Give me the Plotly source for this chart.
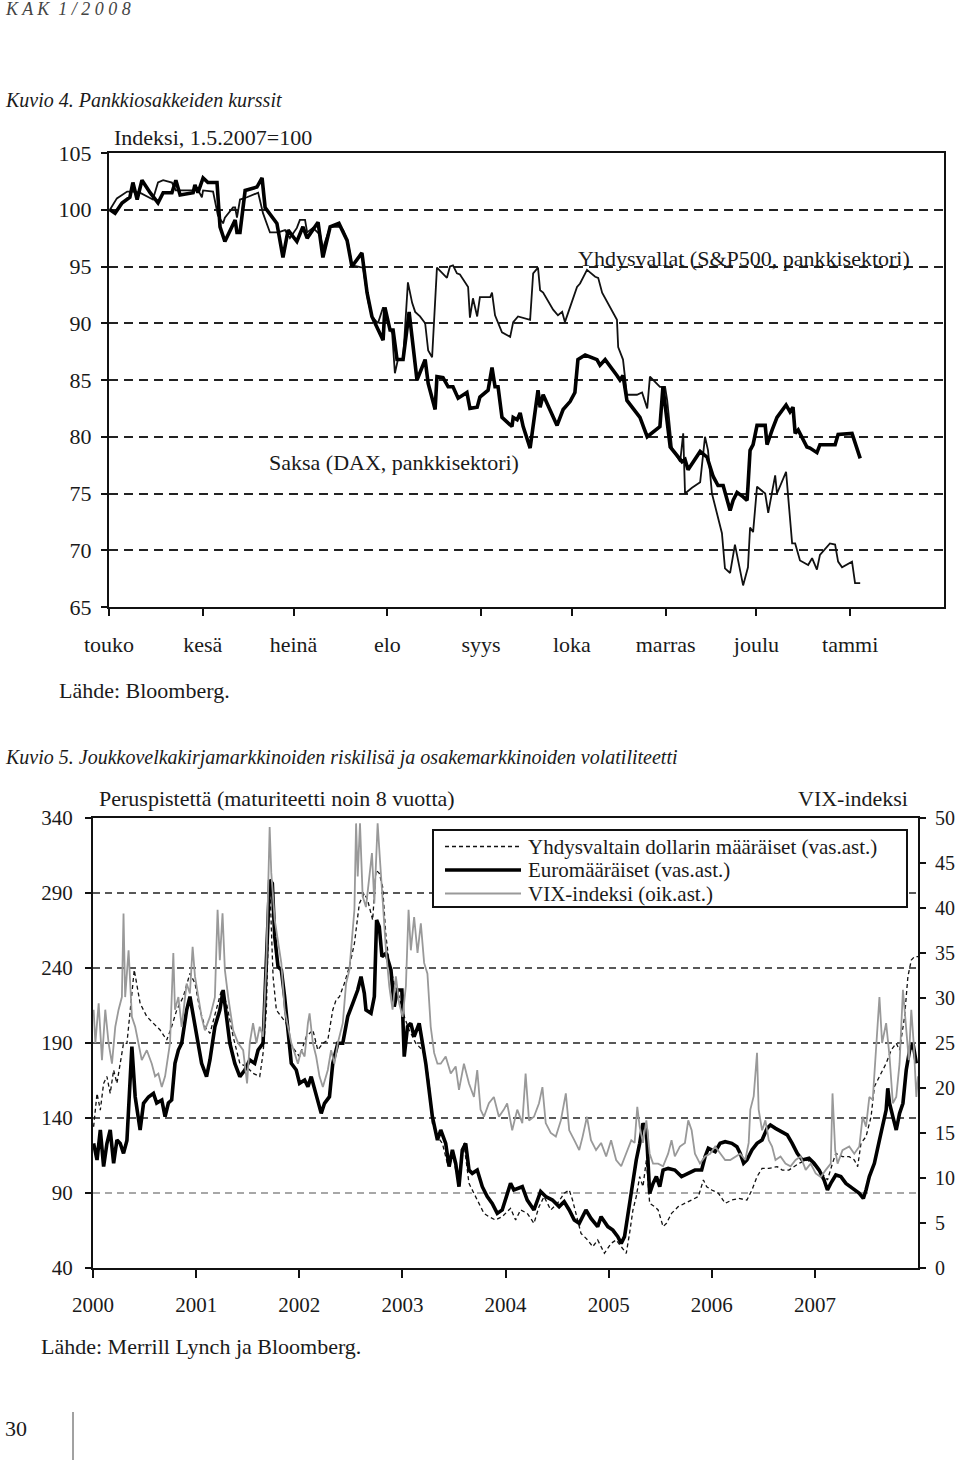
import plotly.graph_objects as go

W, H = 960, 1464

# ---------------- Kuvio 4 data (days since 1 May 2007, index 1.5.2007=100) -------------
months = ["touko", "kesä", "heinä", "elo", "syys", "loka", "marras", "joulu", "tammi"]
month_start_day = [0, 31, 61, 92, 123, 153, 184, 214, 245]

dax_pts = [
    (0.3, 100.0), (2.0, 99.7), (4.3, 100.6), (6.9, 101.1), (7.9, 102.4), (9.3, 100.9), (10.9, 102.6),
    (13.6, 101.5), (16.2, 100.6), (17.9, 101.5), (20.8, 101.5), (22.1, 102.6), (23.5, 101.3), (27.8, 101.5),
    (28.4, 102.2), (29.4, 101.5), (31.1, 102.8), (32.7, 102.4), (35.7, 102.4), (36.7, 98.5), (38.3, 97.2),
    (41.7, 99.1), (42.3, 98.0), (43.3, 98.0), (45.0, 101.7), (48.9, 102.0), (50.6, 102.8), (51.6, 100.2),
    (55.5, 98.8), (57.5, 95.8), (59.2, 98.2), (62.1, 97.2), (64.1, 98.5), (65.5, 97.5), (69.1, 98.9),
    (70.7, 95.8), (73.1, 98.5), (76.0, 98.8), (78.7, 97.3), (80.3, 95.0), (83.6, 96.2), (85.3, 92.7),
    (86.9, 90.6), (90.6, 88.5), (91.2, 91.4), (92.9, 89.4), (93.9, 89.4), (95.2, 86.8), (97.2, 86.8),
    (99.2, 91.0), (101.8, 85.0), (104.5, 86.8), (105.5, 84.7), (107.8, 82.4), (108.4, 85.3), (110.4, 85.2),
    (112.1, 84.4), (113.7, 84.4), (115.4, 83.4), (118.3, 83.9), (119.3, 82.5), (121.7, 82.6), (122.6, 83.5),
    (125.3, 84.1), (126.6, 86.1), (127.6, 84.4), (128.6, 84.4), (129.9, 81.7), (133.2, 80.9), (133.6, 81.7),
    (134.9, 81.5), (135.9, 82.1), (136.9, 80.9), (139.2, 79.0), (141.8, 84.1), (142.5, 82.6), (143.5, 83.7),
    (148.1, 81.0), (150.1, 82.4), (152.4, 83.1), (154.0, 83.9), (155.0, 86.8), (157.4, 87.2), (161.3, 86.8),
    (162.3, 86.3), (164.0, 86.8), (167.9, 85.4), (168.9, 85.0), (169.9, 85.4), (171.2, 83.2), (175.5, 81.7),
    (177.9, 80.0), (182.1, 80.9), (183.1, 84.4), (185.5, 79.1), (189.4, 77.8), (190.4, 78.0), (191.4, 77.1),
    (195.4, 78.7), (197.7, 78.2), (199.7, 76.5), (201.3, 75.7), (203.0, 75.7), (205.3, 73.5), (206.3, 74.4),
    (207.6, 75.1), (209.6, 74.7), (210.9, 74.4), (211.2, 75.6), (211.9, 78.8), (212.9, 79.3), (214.2, 81.0),
    (216.9, 81.0), (217.5, 79.3), (219.2, 80.6), (220.8, 81.7), (223.8, 82.8), (225.1, 82.2), (226.1, 82.6),
    (226.8, 80.3), (227.8, 80.6), (230.7, 79.1), (231.7, 79.0), (234.0, 78.6), (235.0, 79.3), (240.0, 79.3),
    (241.0, 80.2), (245.6, 80.3), (248.3, 78.1),
]

sp_pts = [
    (0.3, 100.0), (2.6, 101.0), (6.0, 101.6), (7.9, 101.6), (10.2, 101.5), (14.5, 100.9), (16.2, 102.4),
    (17.9, 102.6), (20.8, 102.4), (22.1, 101.7), (27.8, 101.7), (29.1, 101.9), (30.7, 101.1), (31.1, 101.7),
    (34.4, 101.6), (36.0, 99.5), (37.7, 98.8), (38.3, 99.3), (41.0, 100.2), (41.7, 100.2), (42.3, 99.3),
    (43.3, 100.9), (45.6, 101.1), (49.3, 101.5), (50.9, 99.7), (52.2, 98.8), (53.2, 98.0), (55.9, 98.0),
    (58.2, 98.2), (59.8, 97.5), (62.1, 98.4), (63.1, 99.1), (64.8, 99.1), (65.5, 98.0), (67.4, 98.4),
    (69.8, 97.8), (70.7, 96.6), (73.1, 98.5), (76.4, 98.5), (77.4, 98.2), (79.0, 97.1), (80.3, 95.1),
    (84.0, 94.9), (85.6, 92.0), (86.9, 90.6), (88.9, 90.0), (90.6, 91.4), (92.2, 90.0), (93.6, 89.1),
    (94.5, 85.6), (95.5, 86.8), (97.2, 86.8), (98.8, 93.6), (100.2, 91.8), (101.2, 91.0), (102.8, 90.6),
    (104.5, 90.0), (105.5, 87.6), (106.8, 87.0), (108.4, 94.9), (111.7, 94.0), (112.7, 95.0), (113.7, 95.1),
    (115.0, 94.4), (116.0, 94.3), (118.7, 93.2), (119.3, 90.5), (120.3, 92.2), (121.7, 90.6), (122.6, 92.3),
    (126.0, 92.3), (126.6, 92.7), (127.6, 90.7), (129.9, 89.2), (132.6, 88.8), (133.6, 90.1), (135.2, 90.6),
    (139.2, 90.3), (140.2, 94.4), (141.8, 94.9), (142.5, 92.9), (143.5, 92.7), (146.8, 91.2), (148.4, 90.7),
    (149.8, 91.0), (150.7, 90.1), (154.7, 93.2), (155.7, 93.5), (158.0, 94.7), (160.7, 94.1), (161.7, 94.0),
    (163.0, 92.7), (167.9, 90.3), (168.3, 87.9), (169.9, 86.8), (171.2, 83.7), (174.5, 83.7), (176.2, 83.9),
    (177.9, 82.5), (178.8, 85.3), (182.1, 84.4), (183.8, 84.4), (184.5, 83.2), (186.1, 79.0), (188.8, 77.8),
    (189.8, 80.3), (190.4, 75.0), (192.7, 75.5), (195.4, 76.0), (197.0, 80.0), (198.0, 78.8), (199.3, 75.0),
    (202.6, 71.5), (203.6, 68.4), (205.3, 68.0), (206.9, 70.5), (209.6, 66.9), (211.2, 68.5), (211.9, 72.0),
    (212.9, 71.6), (214.2, 75.6), (216.9, 75.0), (217.9, 73.3), (220.2, 76.6), (220.8, 75.0), (223.8, 76.9),
    (225.8, 70.6), (226.8, 70.6), (228.4, 69.1), (231.1, 68.7), (232.4, 69.3), (234.0, 68.3), (235.0, 69.6),
    (238.3, 70.6), (240.0, 70.5), (241.0, 69.0), (242.3, 68.5), (245.6, 69.0), (246.6, 67.1), (248.3, 67.1),
]

# ---------------- Kuvio 5 data (decimal year; basis points / VIX) -------------
years = [2000, 2001, 2002, 2003, 2004, 2005, 2006, 2007]

usd_pts = [
    (2000.006, 134.2), (2000.039, 156.4), (2000.071, 145.3), (2000.103, 163.1), (2000.135, 167.6), (2000.167, 156.4),
    (2000.200, 172.0), (2000.232, 163.1), (2000.264, 176.4), (2000.296, 189.8), (2000.329, 189.8), (2000.361, 212.0),
    (2000.400, 238.7), (2000.457, 216.4), (2000.522, 207.6), (2000.586, 203.1), (2000.651, 198.7), (2000.715, 192.0),
    (2000.763, 200.9), (2000.812, 212.0), (2000.876, 220.9), (2000.940, 236.4), (2000.989, 229.8), (2001.037, 212.0),
    (2001.085, 200.9), (2001.134, 196.4), (2001.198, 212.0), (2001.246, 225.3), (2001.295, 216.4), (2001.359, 194.2),
    (2001.424, 176.4), (2001.488, 174.2), (2001.552, 169.8), (2001.617, 167.6), (2001.649, 183.1), (2001.681, 212.0),
    (2001.713, 298.7), (2001.746, 234.2), (2001.778, 212.0), (2001.826, 207.6), (2001.874, 203.1), (2001.907, 189.8),
    (2001.955, 185.3), (2002.003, 180.9), (2002.068, 194.2), (2002.132, 198.7), (2002.180, 185.3), (2002.229, 189.8),
    (2002.277, 192.0), (2002.325, 212.0), (2002.357, 218.7), (2002.390, 220.9), (2002.438, 229.8), (2002.486, 240.9),
    (2002.535, 256.4), (2002.583, 283.1), (2002.631, 289.8), (2002.663, 285.3), (2002.712, 272.0), (2002.744, 305.3),
    (2002.776, 303.1), (2002.808, 294.2), (2002.841, 260.9), (2002.873, 243.1), (2002.921, 229.8), (2002.969, 220.9),
    (2003.018, 207.6), (2003.066, 198.7), (2003.130, 189.8), (2003.195, 185.3), (2003.227, 178.7), (2003.259, 163.1),
    (2003.291, 136.4), (2003.340, 127.6), (2003.388, 123.1), (2003.436, 109.8), (2003.485, 118.7), (2003.517, 105.3),
    (2003.549, 96.4), (2003.597, 123.1), (2003.646, 96.4), (2003.694, 89.8), (2003.742, 83.1), (2003.791, 76.4),
    (2003.839, 74.2), (2003.903, 72.0), (2003.968, 74.2),
    (2004.049, 79.8), (2004.098, 72.0), (2004.146, 78.7), (2004.211, 76.4), (2004.276, 69.8), (2004.325, 80.9),
    (2004.374, 87.6), (2004.439, 78.7), (2004.504, 83.1), (2004.569, 89.8), (2004.618, 92.0), (2004.650, 85.3),
    (2004.699, 72.0), (2004.732, 63.1), (2004.797, 58.7), (2004.846, 54.2), (2004.894, 58.7), (2004.959, 49.8),
    (2005.024, 56.4), (2005.073, 58.7), (2005.122, 54.2), (2005.171, 49.8), (2005.203, 63.1), (2005.236, 78.7),
    (2005.268, 87.6), (2005.301, 100.9), (2005.333, 94.2), (2005.366, 112.0), (2005.398, 83.1), (2005.447, 80.9),
    (2005.480, 78.7), (2005.528, 67.6), (2005.561, 69.8), (2005.610, 76.4), (2005.675, 80.9), (2005.740, 83.1),
    (2005.805, 85.3), (2005.870, 87.6), (2005.919, 98.7), (2005.951, 94.2), (2006.000, 92.0), (2006.065, 89.8),
    (2006.130, 83.1), (2006.195, 85.3), (2006.260, 86.4), (2006.341, 85.3), (2006.390, 92.0), (2006.439, 100.9),
    (2006.488, 106.4), (2006.553, 106.4), (2006.634, 107.6), (2006.683, 105.3), (2006.748, 105.3), (2006.846, 109.8),
    (2006.927, 112.0), (2006.976, 109.8), (2007.041, 105.3), (2007.089, 100.9), (2007.122, 98.7), (2007.171, 109.8),
    (2007.203, 116.4), (2007.268, 114.2), (2007.333, 114.2), (2007.382, 112.0), (2007.415, 107.6), (2007.447, 123.1),
    (2007.496, 127.6), (2007.545, 140.9), (2007.577, 160.9), (2007.626, 167.6), (2007.691, 176.4), (2007.740, 185.3),
    (2007.789, 189.8), (2007.821, 185.3), (2007.870, 207.6), (2007.902, 234.2), (2007.935, 245.3), (2007.967, 247.6),
    (2008.000, 247.6),
]

euro_pts = [
    (2000.006, 123.1), (2000.039, 112.0), (2000.071, 132.0), (2000.103, 107.6), (2000.135, 123.0), (2000.167, 132.0),
    (2000.200, 109.8), (2000.232, 125.3), (2000.264, 123.0), (2000.296, 116.4), (2000.329, 125.0), (2000.345, 145.0),
    (2000.377, 187.6), (2000.409, 154.2), (2000.457, 132.0), (2000.490, 149.8), (2000.538, 154.0), (2000.586, 156.4),
    (2000.618, 150.0), (2000.667, 152.0), (2000.699, 140.9), (2000.731, 150.0), (2000.763, 152.0), (2000.795, 176.4),
    (2000.828, 185.3), (2000.860, 189.8), (2000.908, 212.0), (2000.940, 220.9), (2000.973, 207.6), (2001.005, 194.2),
    (2001.053, 176.4), (2001.101, 167.6), (2001.134, 178.7), (2001.182, 200.9), (2001.230, 212.0), (2001.262, 225.3),
    (2001.295, 207.6), (2001.327, 189.8), (2001.375, 176.4), (2001.424, 167.6), (2001.472, 172.0), (2001.520, 178.7),
    (2001.568, 176.4), (2001.601, 185.3), (2001.649, 189.8), (2001.681, 249.8), (2001.713, 298.7), (2001.739, 296.4),
    (2001.762, 260.9), (2001.794, 240.9), (2001.826, 238.7), (2001.858, 220.9), (2001.890, 198.7), (2001.923, 176.4),
    (2001.971, 172.0), (2002.003, 163.1), (2002.052, 165.3), (2002.084, 160.9), (2002.116, 167.6), (2002.148, 158.7),
    (2002.180, 149.8), (2002.213, 143.1), (2002.245, 149.8), (2002.293, 154.2), (2002.325, 176.4), (2002.374, 189.8),
    (2002.422, 189.8), (2002.470, 207.6), (2002.519, 216.4), (2002.567, 225.3), (2002.599, 234.2), (2002.631, 223.1),
    (2002.647, 212.0), (2002.696, 209.8), (2002.728, 220.9), (2002.750, 272.0), (2002.776, 267.6), (2002.802, 247.6),
    (2002.841, 249.8), (2002.889, 238.7), (2002.921, 214.2), (2002.953, 225.3), (2002.995, 225.3), (2003.018, 180.9),
    (2003.050, 200.9), (2003.082, 203.1), (2003.114, 194.2), (2003.163, 203.1), (2003.195, 189.8), (2003.227, 176.4),
    (2003.259, 158.7), (2003.291, 140.9), (2003.340, 125.3), (2003.372, 132.0), (2003.420, 123.1), (2003.453, 107.6),
    (2003.485, 118.7), (2003.517, 109.8), (2003.549, 94.2), (2003.581, 118.7), (2003.614, 123.1), (2003.646, 105.3),
    (2003.678, 103.1), (2003.726, 105.3), (2003.775, 94.2), (2003.823, 87.6), (2003.871, 83.1), (2003.920, 76.4),
    (2003.968, 78.7),
    (2004.049, 96.4), (2004.081, 92.0), (2004.163, 94.2), (2004.211, 85.3), (2004.276, 78.7), (2004.341, 91.0),
    (2004.390, 87.6), (2004.455, 85.3), (2004.520, 80.9), (2004.569, 84.2), (2004.618, 78.7), (2004.667, 72.0),
    (2004.715, 69.8), (2004.780, 78.7), (2004.829, 73.1), (2004.894, 67.6), (2004.927, 74.2), (2004.992, 67.6),
    (2005.041, 65.3), (2005.089, 60.9), (2005.122, 56.4), (2005.154, 60.9), (2005.203, 83.1), (2005.236, 100.9),
    (2005.268, 112.0), (2005.301, 123.1), (2005.333, 136.4), (2005.366, 132.0), (2005.382, 112.0), (2005.398, 89.8),
    (2005.431, 96.4), (2005.463, 100.9), (2005.496, 94.2), (2005.528, 105.3), (2005.577, 106.4), (2005.642, 105.3),
    (2005.707, 100.9), (2005.772, 103.1), (2005.837, 105.3), (2005.902, 105.3), (2005.935, 114.2), (2005.967, 119.8),
    (2006.033, 117.6), (2006.081, 123.1), (2006.130, 124.2), (2006.195, 123.1), (2006.244, 120.9), (2006.276, 116.4),
    (2006.309, 109.8), (2006.341, 112.0), (2006.390, 118.7), (2006.439, 123.1), (2006.488, 125.3), (2006.537, 133.1),
    (2006.569, 135.3), (2006.618, 133.1), (2006.683, 130.9), (2006.732, 128.7), (2006.780, 123.1), (2006.829, 116.4),
    (2006.878, 112.0), (2006.943, 113.1), (2006.992, 109.8), (2007.041, 105.3), (2007.089, 98.7), (2007.122, 92.0),
    (2007.154, 96.4), (2007.203, 102.0), (2007.252, 100.9), (2007.301, 96.4), (2007.366, 93.1), (2007.431, 89.8),
    (2007.470, 86.4), (2007.496, 92.0), (2007.528, 100.9), (2007.577, 109.8), (2007.626, 125.3), (2007.659, 136.4),
    (2007.691, 145.3), (2007.707, 159.8), (2007.724, 149.8), (2007.756, 140.9), (2007.789, 132.0), (2007.821, 143.1),
    (2007.854, 149.8), (2007.886, 172.0), (2007.919, 185.3), (2007.951, 189.8), (2007.984, 176.4),
]

vix_pts = [
    (2000.006, 28.7), (2000.023, 25.0), (2000.055, 29.4), (2000.087, 23.1), (2000.119, 28.7), (2000.151, 25.0),
    (2000.184, 22.7), (2000.216, 26.8), (2000.248, 28.7), (2000.280, 30.1), (2000.296, 39.4), (2000.312, 30.1),
    (2000.345, 35.3), (2000.377, 27.9), (2000.409, 26.8), (2000.441, 25.0), (2000.473, 23.1), (2000.522, 24.2),
    (2000.570, 22.7), (2000.602, 21.3), (2000.634, 21.6), (2000.667, 20.1), (2000.699, 21.3), (2000.747, 25.0),
    (2000.779, 35.0), (2000.795, 28.7), (2000.828, 30.1), (2000.860, 26.8), (2000.908, 31.6), (2000.940, 30.5),
    (2000.966, 35.7), (2000.989, 32.4), (2001.021, 30.1), (2001.053, 27.9), (2001.085, 26.4), (2001.134, 27.9),
    (2001.182, 30.1), (2001.208, 39.8), (2001.230, 34.2), (2001.256, 39.4), (2001.279, 33.1), (2001.311, 30.1),
    (2001.359, 26.4), (2001.407, 25.0), (2001.456, 24.2), (2001.494, 20.5), (2001.520, 25.0), (2001.552, 27.2),
    (2001.585, 25.0), (2001.617, 26.8), (2001.649, 25.7), (2001.681, 33.9), (2001.713, 49.0), (2001.729, 43.9),
    (2001.762, 38.7), (2001.794, 36.1), (2001.826, 33.9), (2001.858, 28.7), (2001.890, 26.8), (2001.923, 25.0),
    (2001.955, 23.9), (2001.987, 22.7), (2002.019, 24.2), (2002.052, 23.5), (2002.084, 27.2), (2002.100, 28.3),
    (2002.132, 25.0), (2002.164, 23.5), (2002.196, 21.3), (2002.229, 20.1), (2002.277, 22.0), (2002.309, 24.2),
    (2002.341, 22.7), (2002.374, 25.0), (2002.422, 27.2), (2002.454, 31.6), (2002.486, 33.1), (2002.535, 39.8),
    (2002.551, 49.4), (2002.567, 43.5), (2002.589, 49.4), (2002.615, 41.3), (2002.647, 40.1), (2002.680, 43.5),
    (2002.705, 46.1), (2002.728, 40.5), (2002.760, 49.4), (2002.783, 45.3), (2002.808, 40.9), (2002.841, 35.3),
    (2002.873, 31.3), (2002.905, 28.7), (2002.937, 32.4), (2002.969, 29.4), (2003.002, 27.9), (2003.034, 31.3),
    (2003.060, 39.8), (2003.082, 35.3), (2003.114, 39.0), (2003.147, 35.0), (2003.179, 38.3), (2003.211, 33.9),
    (2003.243, 32.7), (2003.275, 26.8), (2003.308, 23.9), (2003.340, 22.7), (2003.372, 22.7), (2003.420, 23.5),
    (2003.469, 21.6), (2003.517, 22.4), (2003.549, 19.8), (2003.597, 22.7), (2003.646, 20.5), (2003.694, 19.0),
    (2003.726, 22.0), (2003.758, 17.6), (2003.791, 16.8), (2003.839, 18.3), (2003.887, 19.0), (2003.936, 16.8),
    (2003.984, 17.6),
    (2004.016, 18.3), (2004.065, 15.3), (2004.114, 17.6), (2004.163, 16.1), (2004.195, 21.6), (2004.228, 16.4),
    (2004.276, 16.8), (2004.325, 18.3), (2004.358, 20.1), (2004.390, 16.1), (2004.439, 15.0), (2004.488, 14.6),
    (2004.537, 16.4), (2004.585, 19.4), (2004.618, 15.3), (2004.667, 14.2), (2004.715, 13.1), (2004.748, 14.6),
    (2004.790, 16.8), (2004.829, 14.2), (2004.878, 13.1), (2004.927, 13.9), (2004.976, 12.4), (2005.024, 14.2),
    (2005.073, 12.0), (2005.122, 11.3), (2005.171, 12.7), (2005.220, 14.2), (2005.252, 13.9), (2005.278, 17.9),
    (2005.301, 15.7), (2005.333, 13.9), (2005.366, 16.4), (2005.398, 12.7), (2005.431, 11.6), (2005.480, 11.6),
    (2005.528, 11.3), (2005.577, 12.7), (2005.610, 14.2), (2005.642, 12.4), (2005.691, 13.5), (2005.740, 13.9),
    (2005.772, 16.4), (2005.805, 15.3), (2005.837, 12.7), (2005.886, 11.6), (2005.935, 12.4), (2005.984, 12.7),
    (2006.033, 13.5), (2006.081, 12.7), (2006.130, 12.0), (2006.179, 12.0), (2006.228, 12.4), (2006.276, 12.7),
    (2006.325, 12.0), (2006.358, 13.9), (2006.374, 17.6), (2006.407, 19.1), (2006.439, 23.9), (2006.455, 17.6),
    (2006.488, 15.3), (2006.520, 16.4), (2006.553, 14.2), (2006.585, 13.5), (2006.618, 12.0), (2006.667, 12.4),
    (2006.715, 11.6), (2006.764, 11.3), (2006.813, 12.0), (2006.862, 12.4), (2006.911, 10.9), (2006.959, 11.6),
    (2007.008, 10.5), (2007.057, 10.1), (2007.106, 10.9), (2007.154, 11.6), (2007.171, 19.4), (2007.197, 13.1),
    (2007.220, 11.6), (2007.268, 13.1), (2007.333, 13.5), (2007.382, 12.7), (2007.431, 13.5), (2007.463, 16.8),
    (2007.496, 15.7), (2007.528, 19.0), (2007.561, 18.7), (2007.593, 25.0), (2007.626, 30.1), (2007.652, 25.0),
    (2007.691, 27.2), (2007.724, 23.5), (2007.756, 18.3), (2007.789, 19.0), (2007.821, 22.7), (2007.854, 30.9),
    (2007.886, 26.8), (2007.911, 23.1), (2007.935, 28.7), (2007.958, 25.0), (2007.984, 19.0), (2008.000, 21.3),
]

legend_labels = ["Yhdysvaltain dollarin määräiset (vas.ast.)", "Euromääräiset (vas.ast.)", "VIX-indeksi (oik.ast.)"]

# ---------------- helpers ----------------
def X(p):
    return p / W


def Y(p):
    return 1 - p / H


SERIF = "Liberation Serif, Times New Roman, serif"
TXT = "#1a1a1a"
tickfont1 = dict(family=SERIF, size=22, color=TXT)
tickfont2 = dict(family=SERIF, size=21, color=TXT)

fig = go.Figure()

dax_d, dax_v = zip(*dax_pts)
sp_d, sp_v = zip(*sp_pts)
fig.add_trace(go.Scatter(x=sp_d, y=sp_v, mode="lines", line=dict(color="#111", width=1.8),
                         xaxis="x", yaxis="y", showlegend=False, hoverinfo="skip"))
fig.add_trace(go.Scatter(x=dax_d, y=dax_v, mode="lines", line=dict(color="#000", width=3.6),
                         xaxis="x", yaxis="y", showlegend=False, hoverinfo="skip"))

usd_x, usd_v = zip(*usd_pts)
eur_x, eur_v = zip(*euro_pts)
vix_x, vix_v = zip(*vix_pts)
fig.add_trace(go.Scatter(x=usd_x, y=usd_v, mode="lines", line=dict(color="#111", width=1.3, dash="4px,3px"),
                         xaxis="x2", yaxis="y2", showlegend=False, hoverinfo="skip"))
fig.add_trace(go.Scatter(x=eur_x, y=eur_v, mode="lines", line=dict(color="#000", width=3.6),
                         xaxis="x2", yaxis="y2", showlegend=False, hoverinfo="skip"))
fig.add_trace(go.Scatter(x=vix_x, y=vix_v, mode="lines", line=dict(color="#999", width=1.8),
                         xaxis="x2", yaxis="y3", showlegend=False, hoverinfo="skip"))

axis_common = dict(showline=True, linewidth=2, linecolor="#111", ticks="outside", tickcolor="#111",
                   tickwidth=1.5, zeroline=False, fixedrange=True, automargin=False)

shapes = []
# Kuvio 5 gridlines
for v in [90, 140, 190, 240, 290]:
    shapes.append(dict(type="line", xref="x2 domain", x0=0, x1=1, yref="y2", y0=v, y1=v, layer="below",
                       line=dict(color="#8a8a8a" if v == 90 else "#222", width=1.5, dash="7px,5px")))
# legend box
shapes.append(dict(type="rect", xref="paper", yref="paper", x0=X(433), x1=X(907), y0=Y(907), y1=Y(830),
                   line=dict(color="#111", width=2), fillcolor="white", layer="above"))
leg_styles = [dict(color="#111", width=1.3, dash="4px,3px"), dict(color="#000", width=3.6),
              dict(color="#999", width=1.8)]
leg_y = [846.5, 870, 893.5]
for st, yy in zip(leg_styles, leg_y):
    shapes.append(dict(type="line", xref="paper", yref="paper", x0=X(445), x1=X(521), y0=Y(yy), y1=Y(yy),
                       line=st, layer="above"))
# page marker line
shapes.append(dict(type="line", xref="paper", yref="paper", x0=X(73), x1=X(73), y0=Y(1412), y1=Y(1460),
                   line=dict(color="#444", width=1)))

annotations = []


def note(text, px, py, anchor="left", size=22, italic=False, color=TXT):
    annotations.append(dict(text=f"<i>{text}</i>" if italic else text, xref="paper", yref="paper",
                            x=X(px), y=Y(py), xanchor=anchor, yanchor="middle", showarrow=False,
                            font=dict(family=SERIF, size=size, color=color)))


note("K A K  1 / 2 0 0 8", 3, 9, italic=True, size=18, color="#444")
note("Kuvio 4. Pankkiosakkeiden kurssit", 3, 100, italic=True, size=20)
note("Indeksi, 1.5.2007=100", 112, 138)
note("Yhdysvallat (S&P500, pankkisektori)", 576, 258)
note("Saksa (DAX, pankkisektori)", 267, 462)
note("Lähde: Bloomberg.", 57, 690)
note("Kuvio 5. Joukkovelkakirjamarkkinoiden riskilisä ja osakemarkkinoiden volatiliteetti", 3, 757,
     italic=True, size=20)
note("Peruspistettä (maturiteetti noin 8 vuotta)", 97, 798)
note("VIX-indeksi", 910, 798, anchor="right")
for lab, yy in zip(legend_labels, leg_y):
    note(lab, 526, yy, size=21)
note("Lähde: Merrill Lynch ja Bloomberg.", 39, 1346)
note("30", 3, 1428)

fig.update_layout(
    template="none",
    width=W, height=H, margin=dict(l=0, r=0, t=0, b=0, pad=0, autoexpand=False),
    paper_bgcolor="white", plot_bgcolor="white", showlegend=False,
    xaxis=dict(domain=[X(109), X(944)], anchor="y", range=[0, 276], tickmode="array",
               tickvals=month_start_day, ticktext=months, ticklen=7, mirror=True, showgrid=False,
               ticklabelstandoff=10, tickfont=tickfont1, **axis_common),
    yaxis=dict(domain=[Y(607), Y(153)], anchor="x", range=[65, 105], tickmode="array",
               tickvals=[65, 70, 75, 80, 85, 90, 95, 100, 105], ticklen=6, mirror=True,
               showgrid=True, gridcolor="#222", gridwidth=1.5, griddash="9px,6px",
               ticklabelstandoff=5, tickfont=tickfont1, **axis_common),
    xaxis2=dict(domain=[X(93), X(918)], anchor="y2", range=[2000, 2008], tickmode="array",
                tickvals=years, ticktext=[str(y) for y in years], ticklen=8, mirror=True, showgrid=False,
                ticklabelstandoff=9, tickfont=tickfont2, **axis_common),
    yaxis2=dict(domain=[Y(1268), Y(818)], anchor="x2", range=[40, 340], tickmode="array",
                tickvals=[40, 90, 140, 190, 240, 290, 340], ticklen=6, showgrid=False,
                ticklabelstandoff=8, tickfont=tickfont2, **axis_common),
    yaxis3=dict(overlaying="y2", anchor="x2", side="right", range=[0, 50], tickmode="array",
                tickvals=list(range(0, 51, 5)), ticklen=6, showgrid=False,
                ticklabelstandoff=5, tickfont=dict(family=SERIF, size=20, color=TXT), **axis_common),
    shapes=shapes, annotations=annotations,
)

fig.write_html("out.html", config={"displayModeBar": False},
               post_script="document.body.style.margin='0';")
